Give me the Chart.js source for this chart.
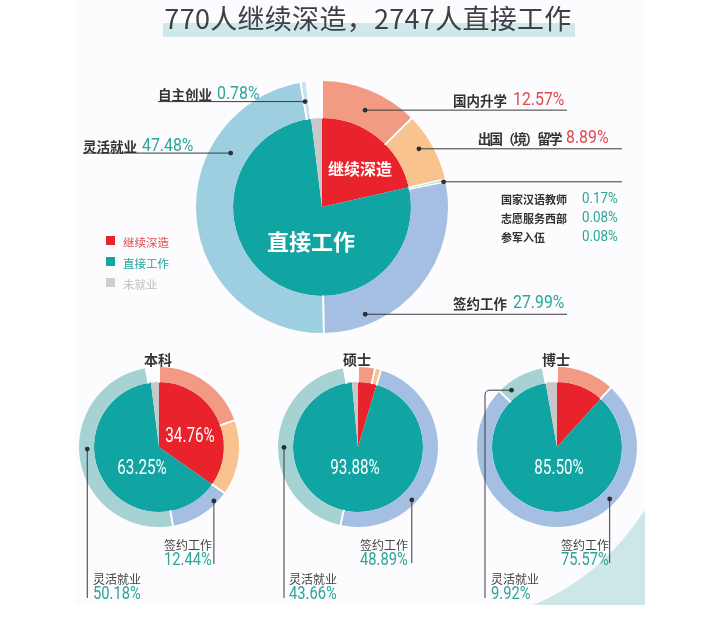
<!DOCTYPE html>
<html><head><meta charset="utf-8">
<script src="https://cdn.jsdelivr.net/npm/chart.js@4.4.1/dist/chart.umd.min.js"></script>
<style>
html,body{margin:0;padding:0;background:#fff;}
#page{position:relative;width:719px;height:622px;overflow:hidden;font-family:"Noto Sans CJK SC","Noto Sans",sans-serif;}
canvas{position:absolute;left:0;top:0;}
.t{position:absolute;white-space:nowrap;line-height:1;}
.t>span{display:inline-block;}
</style></head><body><div id="page">
<div style="position:absolute;left:75px;top:0;width:570px;height:605px;background:#fcfbfd;"></div>
<svg style="position:absolute;left:0;top:0" width="719" height="622"><path d="M645,510 Q600,578 533,605 L645,605 Z" fill="#cde6e7"/></svg>
<div style="position:absolute;left:163px;top:23px;width:412px;height:14px;background:#cfe8e9;"></div>
<canvas id="c0" width="719" height="622"></canvas>
<canvas id="c1" width="719" height="622"></canvas>
<canvas id="c2" width="719" height="622"></canvas>
<canvas id="c3" width="719" height="622"></canvas>
</div>
<script>
// ---- data ----
const title = '770人继续深造，2747人直接工作';
const innerLabels = ['继续深造','直接工作','未就业'];
const topOuterLabels = ['国内升学','出国（境）留学','国家汉语教师','志愿服务西部','参军入伍','签约工作','灵活就业','自主创业','未就业'];
const topOuterValues = [12.57, 8.89, 0.17, 0.08, 0.08, 27.99, 47.48, 0.78, 1.96];
const topInnerValues = [21.46, 76.58, 1.96];
const groupNames = ['本科','硕士','博士'];
const subOuterLabels = ['国内升学','出国（境）留学','签约工作','灵活就业','未就业'];
const benkeOuter = [19.60, 15.16, 12.44, 50.18, 2.62];
const benkeInner = [34.76, 63.25, 1.99];
const shuoshiOuter = [3.40, 1.22, 48.89, 43.66, 2.83];
const shuoshiInner = [4.62, 93.88, 1.50];
const boshiOuter = [11.70, 0.00, 75.57, 9.92, 2.81];
const boshiInner = [11.70, 85.50, 2.80];

// ---- styles ----
const innerColors = ['#e8232c','#10a5a3','#c8c8c8'];
const topOuterColors = ['#f29a84','#f8c38e','#7fc8b8','#7fc8b8','#7fc8b8','#a5bfe3','#9ecfe0','#c4e5ef','rgba(0,0,0,0)'];
const subOuterColors = ['#f29a84','#f8c38e','#a5bfe3','#a6d2d4','rgba(0,0,0,0)'];
const RED='#e2474c', TEAL='#2aa69b';
const page = document.getElementById('page');
const pct = v => v.toFixed(2)+'%';

function addText(html, x, y, align, style, sx){
  const d=document.createElement('div');
  d.className='t';
  const s=document.createElement('span');
  s.innerHTML=html;
  s.style.cssText=style||'';
  if(sx){
    s.style.transform='scaleX('+sx+')';
    s.style.transformOrigin = align==='right'?'right center':(align==='center'?'center center':'left center');
  }
  d.appendChild(s);
  d.style.top=y+'px';
  if(align==='right'){d.style.right=(719-x)+'px';d.style.transform='translateY(-50%)';}
  else if(align==='center'){d.style.left=x+'px';d.style.transform='translate(-50%,-50%)';}
  else {d.style.left=x+'px';d.style.transform='translateY(-50%)';}
  page.appendChild(d);
  return d;
}
const numStyle=(fs,c)=>'font-family:Roboto,sans-serif;font-weight:400;font-size:'+fs+'px;color:'+c+';';

const leaderPlugin = {
  id:'leaders',
  afterDatasetsDraw(chart){
    const ctx=chart.ctx;
    const meta=chart.getDatasetMeta(0);
    const vals=chart.data.datasets[0].data;
    ctx.save();
    ctx.strokeStyle='#ffffff'; ctx.lineWidth=1.6;
    meta.data.forEach((arc,i)=>{
      if(vals[i] < 0.5) return;
      const p=arc.getProps(['x','y','startAngle','endAngle','innerRadius','outerRadius'],true);
      [p.startAngle,p.endAngle].forEach(a=>{
        ctx.beginPath();
        ctx.moveTo(p.x+Math.cos(a)*(p.innerRadius-0.5),p.y+Math.sin(a)*(p.innerRadius-0.5));
        ctx.lineTo(p.x+Math.cos(a)*(p.outerRadius+1),p.y+Math.sin(a)*(p.outerRadius+1));
        ctx.stroke();
      });
    });
    ctx.restore();
    const anns=chart.options.plugins.leaders.items||[];
    ctx.save();
    ctx.strokeStyle='#3a3a3a'; ctx.fillStyle='#2f2f2f'; ctx.lineWidth=1;
    anns.forEach(an=>{
      const arc=meta.data[an.i];
      const p=arc.getProps(['x','y','startAngle','endAngle','innerRadius','outerRadius'],true);
      const a=p.startAngle+an.a*(p.endAngle-p.startAngle);
      const r=p.innerRadius+an.r*(p.outerRadius-p.innerRadius);
      const px=p.x+Math.cos(a)*r, py=p.y+Math.sin(a)*r;
      ctx.beginPath();
      ctx.moveTo(px,py);
      if(an.h!==undefined && an.v===undefined){ctx.lineTo(an.h,py);}
      else if(an.h===undefined){ctx.lineTo(px,an.v);}
      else {
        const rr=5, dir=an.h<px?-1:1;
        ctx.lineTo(an.h-dir*rr,py);
        ctx.quadraticCurveTo(an.h,py,an.h,py+rr);
        ctx.lineTo(an.h,an.v);
      }
      ctx.stroke();
      ctx.beginPath(); ctx.arc(px,py,2.4,0,Math.PI*2); ctx.fill();
    });
    ctx.restore();
  }
};

function makeChart(id, outerLabels, outerVals, outerColors, innerVals, cx, cy, R, rIn, items){
  const pad={left:cx-R, top:cy-R, right:719-(cx+R), bottom:622-(cy+R)};
  return new Chart(document.getElementById(id),{
    type:'doughnut',
    data:{labels:outerLabels,datasets:[
      {data:outerVals,backgroundColor:outerColors,borderWidth:0,weight:R-rIn},
      {data:innerVals,backgroundColor:innerColors,borderWidth:0,weight:rIn,labels:innerLabels}
    ]},
    options:{responsive:false,animation:false,cutout:0,
      layout:{padding:pad},
      plugins:{legend:{display:false},tooltip:{enabled:false},leaders:{items:items}}},
    plugins:[leaderPlugin]
  });
}

makeChart('c0', topOuterLabels, topOuterValues, topOuterColors, topInnerValues, 322, 207, 126, 89, [
  {i:0,a:0.53,r:0.46,h:567},
  {i:1,a:0.43,r:0.65,h:622},
  {i:4,a:0.5,r:0.95,h:622},
  {i:5,a:0.79,r:0.72,h:567},
  {i:6,a:0.71,r:0.46,h:83},
  {i:7,a:0.25,r:0.48,h:158}
]);
makeChart('c1', subOuterLabels, benkeOuter, subOuterColors, benkeInner, 159, 447, 80, 65, [
  {i:2,a:0.21,r:0.8,v:564},{i:3,a:0.545,r:0.45,v:598}
]);
makeChart('c2', subOuterLabels, shuoshiOuter, subOuterColors, shuoshiInner, 358, 447, 80, 65, [
  {i:2,a:0.67,r:0.7,v:563},{i:3,a:0.49,r:0.6,v:598}
]);
makeChart('c3', subOuterLabels, boshiOuter, subOuterColors, boshiInner, 557, 447, 80, 65, [
  {i:2,a:0.34,r:0.6,v:563},{i:3,a:0.2,r:0.52,h:485,v:598}
]);

// ---- texts ----
addText(title, 368, 17, 'center', 'font-size:27px;color:#3c4147;font-weight:400;letter-spacing:0.3px;');
const cnB='font-size:13.5px;font-weight:700;color:#333;';
addText(topOuterLabels[0], 507, 99, 'right', cnB);
addText(pct(topOuterValues[0]), 513, 99, 'left', numStyle(18,RED), 0.88);
addText(topOuterLabels[1], 561, 137, 'right', cnB+'letter-spacing:-1.6px;');
addText(pct(topOuterValues[1]), 566, 137, 'left', numStyle(18,RED), 0.88);
[2,3,4].forEach((k,j)=>{
  const y=[197,216,235][j];
  addText(topOuterLabels[k], 501, y, 'left', 'font-size:11px;font-weight:700;color:#333;');
  addText(pct(topOuterValues[k]), 582, y, 'left', numStyle(14.5,TEAL), 0.92);
});
addText(topOuterLabels[5], 507, 302, 'right', cnB);
addText(pct(topOuterValues[5]), 513, 302, 'left', numStyle(18,TEAL), 0.88);
addText(topOuterLabels[7], 158, 93, 'left', cnB);
addText(pct(topOuterValues[7]), 217, 93, 'left', numStyle(18,TEAL), 0.88);
addText(topOuterLabels[6], 83, 145, 'left', cnB);
addText(pct(topOuterValues[6]), 142, 145, 'left', numStyle(18,TEAL), 0.88);
addText(innerLabels[0], 360, 168, 'center', 'font-size:16px;font-weight:700;color:#fff;');
addText(innerLabels[1], 311, 240, 'center', 'font-size:22px;font-weight:700;color:#fff;');
// legend
const legColors=['#e05050','#1fa5a0','#c0c0c0'];
innerLabels.forEach((l,k)=>{
  const y=[240,261,282][k];
  const sq=document.createElement('div');
  sq.style.cssText='position:absolute;left:106px;top:'+(y-4.5)+'px;width:9px;height:9px;background:'+(k===2?'#cfcfcf':innerColors[k])+';';
  page.appendChild(sq);
  addText(l, 123, y, 'left', 'font-size:11.5px;color:'+legColors[k]+';');
});
// bottom groups
const groups=[
  {cx:159, o:benkeOuter, in:benkeInner, sx:212, lx:93, inLab:[[190,436,0],[142,468,1]]},
  {cx:358, o:shuoshiOuter, in:shuoshiInner, sx:408, lx:289, inLab:[[355,468,1]]},
  {cx:557, o:boshiOuter, in:boshiInner, sx:609, lx:491, inLab:[[559,468,1]]}
];
groups.forEach((g,k)=>{
  addText(groupNames[k], g.cx-1, 358, 'center', 'font-size:14px;font-weight:700;color:#333;');
  g.inLab.forEach(([x,y,idx])=>addText(pct(g.in[idx]), x, y, 'center', numStyle(19.5,'#fff'), 0.78));
  addText(subOuterLabels[2], g.sx, 543, 'right', 'font-size:12px;color:#444;');
  addText(pct(g.o[2]), g.sx, 559, 'right', numStyle(17.5,TEAL), 0.84);
  addText(subOuterLabels[3], g.lx, 577, 'left', 'font-size:12px;color:#444;');
  addText(pct(g.o[3]), g.lx, 593, 'left', numStyle(17.5,TEAL), 0.84);
});
</script>
</body></html>
